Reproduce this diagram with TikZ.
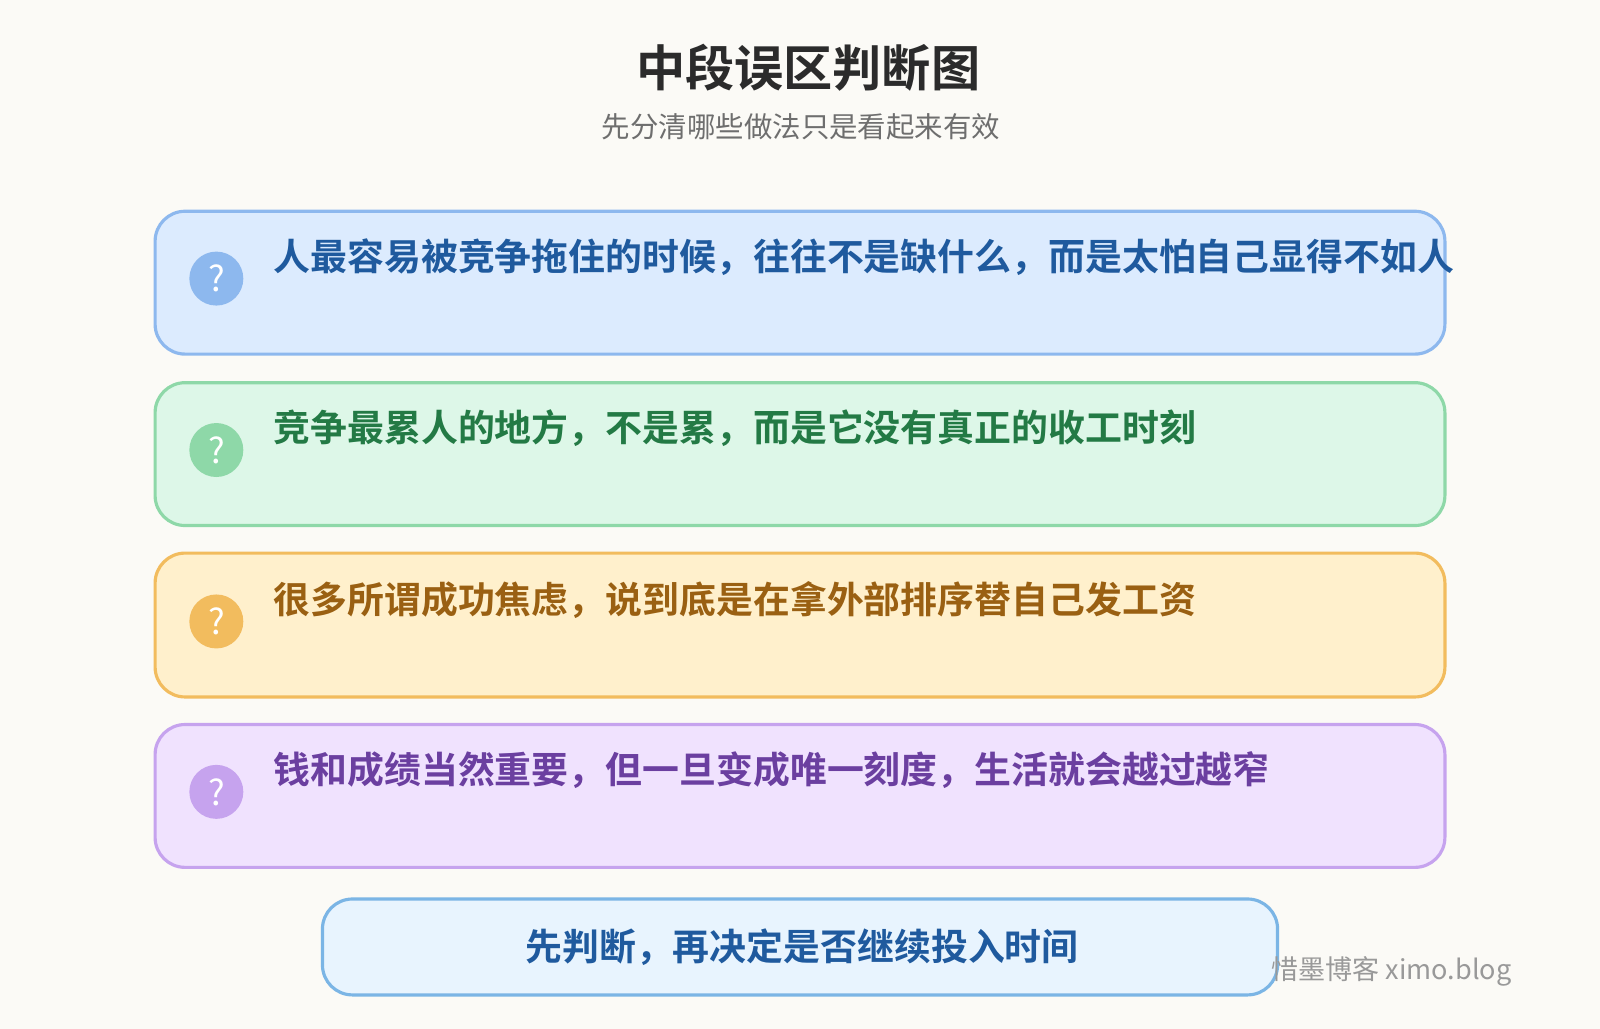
\documentclass[tikz,border=0pt]{standalone}
\usepackage{fontspec}
\setmainfont{Noto Sans CJK SC}
\newfontfamily\cjkb{Noto Sans CJK SC Bold}
\definecolor{paper}{HTML}{FBFAF6}
\definecolor{blueFill}{HTML}{DCEBFE}\definecolor{blueLine}{HTML}{8DB8EE}\definecolor{blueText}{HTML}{1F5A9E}
\definecolor{greenFill}{HTML}{DDF7E8}\definecolor{greenLine}{HTML}{8ED8A8}\definecolor{greenText}{HTML}{237A45}
\definecolor{orangeFill}{HTML}{FFF0CC}\definecolor{orangeLine}{HTML}{F2BC5E}\definecolor{orangeText}{HTML}{9A6012}
\definecolor{purpleFill}{HTML}{F0E2FE}\definecolor{purpleLine}{HTML}{C6A3EE}\definecolor{purpleText}{HTML}{6B3FA0}
\definecolor{noteFill}{HTML}{E8F4FE}\definecolor{noteLine}{HTML}{7BB5E5}
\tikzset{
  card/.style={draw=#1Line, fill=#1Fill, line width=0.9pt, rounded corners=0.3cm},
  mark/.style={circle, fill=#1Line, minimum size=0.54cm, inner sep=0pt, text=white, font=\fontsize{10}{10}\selectfont},
  claim/.style={anchor=west, text=#1Text, font=\cjkb\fontsize{10.5}{12}\selectfont}
}
\begin{document}
\begin{tikzpicture}[x=0.010204cm, y=-0.010204cm]
  \useasboundingbox (0,0) rectangle (1568,1008);
  \fill[paper] (0,0) rectangle (1568,1008);

  \node (title) at (792,66) {\cjkb\fontsize{14}{16}\selectfont\color[HTML]{2B2B2B}中段误区判断图};
  \node (subtitle) at (785,124) {\fontsize{8.1}{10}\selectfont\color[HTML]{6E6E6E}先分清哪些做法只是看起来有效};

  % cards
  \draw[card=blue] (152,207) rectangle (1416,347);
  \node[mark=blue] (q1) at (212,273) {?};
  \node[claim=blue] (t1) at (256,252) {人最容易被竞争拖住的时候，往往不是缺什么，而是太怕自己显得不如人};

  \draw[card=green] (152,375) rectangle (1416,515);
  \node[mark=green] (q2) at (212,441) {?};
  \node[claim=green] (t2) at (256,420) {竞争最累人的地方，不是累，而是它没有真正的收工时刻};

  \draw[card=orange] (152,542) rectangle (1416,683);
  \node[mark=orange] (q3) at (212,609) {?};
  \node[claim=orange] (t3) at (256,588) {很多所谓成功焦虑，说到底是在拿外部排序替自己发工资};

  \draw[card=purple] (152,710) rectangle (1416,850);
  \node[mark=purple] (q4) at (212,776) {?};
  \node[claim=purple] (t4) at (256,755) {钱和成绩当然重要，但一旦变成唯一刻度，生活就会越过越窄};

  % conclusion
  \draw[card=note] (316,881) rectangle (1252,975);
  \node[text=blueText, font=\cjkb\fontsize{10.5}{12}\selectfont] (verdict) at (786,928) {先判断，再决定是否继续投入时间};

  \node[anchor=west, text=black!40, font=\fontsize{7.7}{9}\selectfont] (mark) at (1234,952) {惜墨博客 ximo.blog};
\end{tikzpicture}
\end{document}
